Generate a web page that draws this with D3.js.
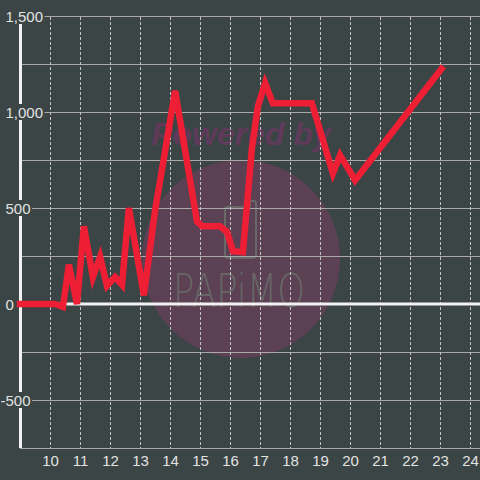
<!DOCTYPE html>
<html>
<head>
<meta charset="utf-8">
<script src="https://cdn.jsdelivr.net/npm/d3@7/dist/d3.min.js"></script>
<style>
  html, body { margin: 0; padding: 0; background: #3b4545; }
  svg { display: block; }
</style>
</head>
<body>
<svg id="chart" width="480" height="480"></svg>
<script>
// ---- data ----
const hours  = [9.0, 10.17, 10.43, 10.63, 10.9, 11.13, 11.43, 11.67, 11.9, 12.17, 12.4, 12.63, 13.13, 13.5, 13.83, 14.17, 14.9, 15.07, 15.67, 15.9, 16.1, 16.43, 16.73, 16.93, 17.17, 17.43, 18.73, 19.43, 19.67, 20.17, 23.05];
const values = [0, 0, -15, 205, 0, 405, 140, 245, 95, 140, 100, 500, 45, 485, 790, 1110, 430, 405, 405, 375, 275, 270, 810, 1030, 1150, 1045, 1045, 680, 775, 645, 1225];
const xTickValues = [10, 11, 12, 13, 14, 15, 16, 17, 18, 19, 20, 21, 22, 23, 24];
const yLabelValues = [1500, 1000, 500, 0, -500];
const yGridValues = [1500, 1250, 1000, 750, 500, 250, -250, -500, -750];

(function () {
// ---- layout ----
const W = 480, H = 480;
const pL = 20, pR = 480, pT = 16, pB = 448;
const bg = "#3b4545";

const svg = d3.select("#chart");
svg.append("rect").attr("width", W).attr("height", H).attr("fill", bg);

const x = d3.scaleLinear().domain([9, 9 + (pR - pL) / 30]).range([pL, pR]);
const y = d3.scaleLinear().domain([-750, 1500]).range([pB, pT]);

// ---- watermark ----
const wm = svg.append("g");
wm.append("circle").attr("cx", 241).attr("cy", 259).attr("r", 99).attr("fill", "#5c4054");
wm.append("text").attr("x", 241).attr("y", 145).attr("text-anchor", "middle")
  .attr("font-family", "Liberation Sans, Arial, sans-serif").attr("font-weight", "bold")
  .attr("font-style", "italic").attr("font-size", 32).attr("fill", "#5f3a5a")
  .text("Powered by");
wm.append("path")
  .attr("d", "M227,207 L250,207 L250,201 L254,201 Q256,201 256,204 L256,255 Q256,258 253,258 L228,258 Q225,258 225,255 L225,210 Q225,207 227,207 Z")
  .attr("fill", "none").attr("stroke", "#686868").attr("stroke-width", 2);
wm.append("text").attr("x", 173).attr("y", 307)
  .attr("font-family", "DejaVu Sans, sans-serif").attr("font-weight", 200)
  .attr("font-size", 46).attr("fill", "#666666")
  .attr("textLength", 132).attr("lengthAdjust", "spacingAndGlyphs")
  .text("PAPiMO");

// ---- grid ----
const grid = svg.append("g");
grid.selectAll("line.h").data(yGridValues).enter().append("line")
  .attr("x1", pL).attr("x2", pR)
  .attr("y1", d => y(d) + 0.5).attr("y2", d => y(d) + 0.5)
  .attr("stroke", "#a9a9a9").attr("stroke-width", 1);
grid.selectAll("line.v").data(xTickValues).enter().append("line")
  .attr("x1", d => x(d) + 0.5).attr("x2", d => x(d) + 0.5)
  .attr("y1", pT + 1).attr("y2", pB)
  .attr("stroke", "#c4c4c4").attr("stroke-width", 1).attr("stroke-dasharray", "3,2");

// zero line & y axis
svg.append("line").attr("x1", 17).attr("x2", pR).attr("y1", y(0)).attr("y2", y(0))
  .attr("stroke", "#f2f2f2").attr("stroke-width", 3);
svg.append("line").attr("x1", pL + 0.5).attr("x2", pL + 0.5).attr("y1", pT).attr("y2", pB)
  .attr("stroke", "#f2f2f2").attr("stroke-width", 3);

// ---- x axis labels ----
const xAxis = d3.axisBottom(x).tickValues(xTickValues).tickSize(0).tickPadding(0).tickFormat(d3.format("d"));
const gx = svg.append("g").attr("transform", `translate(0,${pB})`).call(xAxis);
gx.select(".domain").remove();
gx.selectAll("text").attr("dy", null).attr("y", 18)
  .attr("font-family", "Liberation Sans, Arial, sans-serif").attr("font-size", 15).attr("fill", "#e2e2e2");

// ---- y axis labels with background ----
const fmt = d3.format(",");
const gy = svg.append("g");
yLabelValues.forEach(v => {
  const g = gy.append("g");
  const rect = g.append("rect").attr("fill", bg);
  const t = g.append("text")
    .attr("y", y(v) + 5.5)
    .attr("font-family", "Liberation Sans, Arial, sans-serif").attr("font-size", 15).attr("fill", "#e2e2e2")
    .text(fmt(v).replace("\u2212", "-"));
  let x0 = 5.5;
  if (v < 0) {
    const tmp = g.append("text").attr("font-family", "Liberation Sans, Arial, sans-serif").attr("font-size", 15).text("-");
    x0 -= tmp.node().getComputedTextLength();
    tmp.remove();
  }
  t.attr("x", x0);
  const bb = t.node().getBBox();
  rect.attr("x", bb.x - 1).attr("y", y(v) - 8).attr("width", bb.width + 2.5).attr("height", 16);
});

// ---- data line ----
const pts = hours.map((h, i) => [h, values[i]]);
const line = d3.line().x(d => x(d[0])).y(d => y(d[1]));
svg.append("path").datum(pts).attr("d", line)
  .attr("fill", "none").attr("stroke", "#ee1f35").attr("stroke-width", 6.5)
  .attr("stroke-linejoin", "miter").attr("stroke-linecap", "square");
})();
</script>
</body>
</html>
